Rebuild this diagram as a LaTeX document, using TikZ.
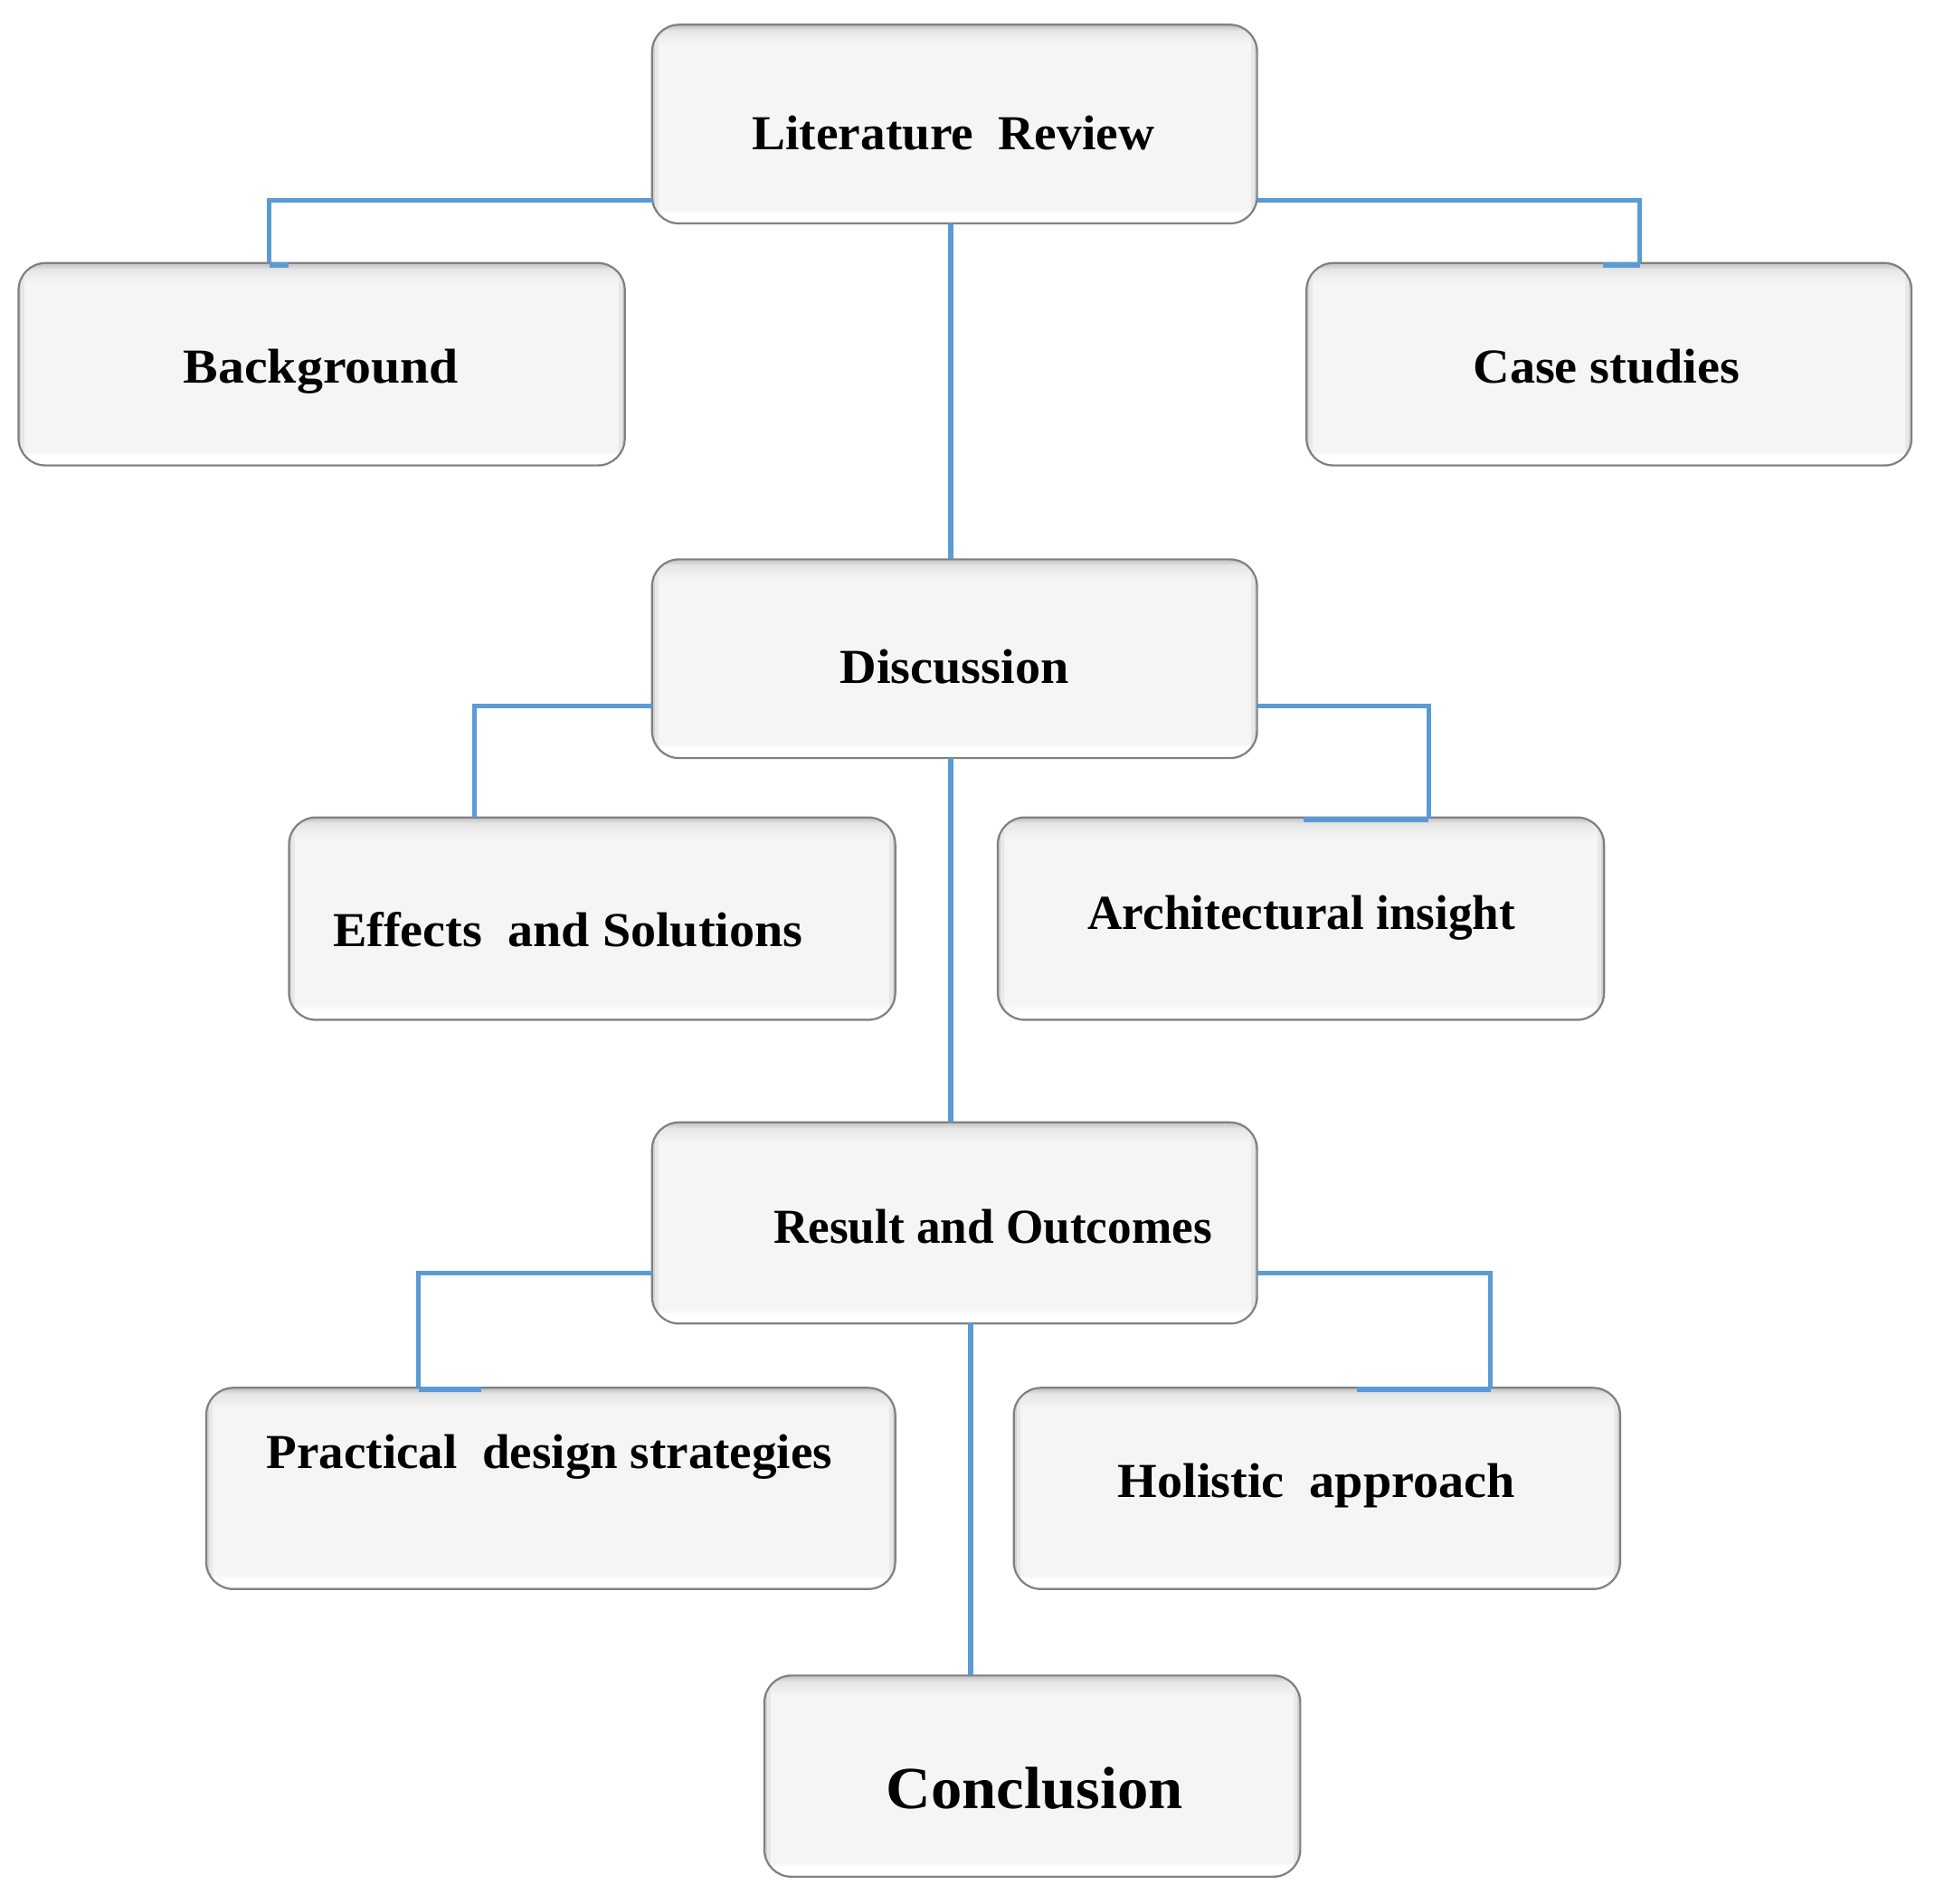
\documentclass[tikz,border=0pt]{standalone}
\usepackage{fontspec}
\setmainfont{Liberation Serif}[FakeStretch=1.04]
\usetikzlibrary{calc}
\definecolor{boxfill}{HTML}{F5F5F5}
\definecolor{conn}{HTML}{5B9BD5}
\definecolor{edge}{HTML}{808080}
\pgfdeclareverticalshading{boxshade}{100bp}{color(0bp)=(edge); color(25bp)=(edge); color(25.5bp)=(white); color(27.5bp)=(white); color(28.5bp)=(boxfill); color(70bp)=(boxfill); color(73.5bp)=(gray!20); color(75bp)=(gray!50); color(100bp)=(gray!50)}
\def\U{0.6825pt}
\begin{document}
\begin{tikzpicture}[x=0.6825pt,y=-0.6825pt,
  box/.style={rectangle, rounded corners=15pt, shading=boxshade, draw=edge, line width=1.1pt,
    inner sep=0pt, outer sep=0pt,
    path picture={
      \draw[gray!18, line width=7pt] (path picture bounding box.south west) -- (path picture bounding box.north west);
      \draw[gray!18, line width=7pt] (path picture bounding box.south east) -- (path picture bounding box.north east);
      \draw[gray!35, line width=3pt] (path picture bounding box.south west) -- (path picture bounding box.north west);
      \draw[gray!35, line width=3pt] (path picture bounding box.south east) -- (path picture bounding box.north east);
    }},
  lbl/.style={anchor=base, font=\bfseries\fontsize{27}{32}\selectfont, inner sep=0pt},
  link/.style={draw=conn, line width=2.6pt},
  tab/.style={draw=conn, line width=3pt, line cap=butt}]
\useasboundingbox (0,0) rectangle (1567,1541.4);

% boxes
\node[box, minimum width=490*\U, minimum height=161*\U] (lit) at (773,100.5) {};
\node[box, minimum width=491*\U, minimum height=164*\U] (bg)  at (260.5,295) {};
\node[box, minimum width=490*\U, minimum height=164*\U] (cs)  at (1303,295) {};
\node[box, minimum width=490*\U, minimum height=161*\U] (dis) at (773,533.5) {};
\node[box, minimum width=491*\U, minimum height=164*\U] (eff) at (479.5,744) {};
\node[box, minimum width=491*\U, minimum height=164*\U] (arc) at (1053.5,744) {};
\node[box, minimum width=490*\U, minimum height=163*\U] (res) at (773,990.5) {};
\node[box, minimum width=558*\U, minimum height=163*\U] (pra) at (446,1205.5) {};
\node[box, minimum width=491*\U, minimum height=163*\U] (hol) at (1066.5,1205.5) {};
\node[box, minimum width=434*\U, minimum height=163*\U] (con) at (836,1438.5) {};

% labels
\node[lbl] (t1) at (772,121.5) {\scalebox{0.985}[1]{Literature\ \ Review}};
\node[lbl] (t2) at (260,310.5) {\scalebox{1.03}[1]{Background}};
\node[lbl] (t3) at (1301,310.5) {Case studies};
\node[lbl] (t4) at (773,553.5) {Discussion};
\node[lbl] (t5) at (460,767) {Effects\ \ and Solutions};
\node[lbl] (t6) at (1054,753) {\scalebox{0.945}[1]{Architectural insight}};
\node[lbl] (t7) at (804,1007) {\scalebox{0.947}[1]{Result and Outcomes}};
\node[lbl] (t8) at (445,1189) {\scalebox{0.98}[1]{Practical\ \ design strategies}};
\node[lbl] (t9) at (1066,1213) {Holistic\ \ approach};
\node[lbl, font=\bfseries\fontsize{33}{38}\selectfont] (t10) at (838,1465) {Conclusion};

% connectors
\draw[link] ($(lit.south west)+(0,-19)$) -| ($(bg.north west)+(203,0)$);
\draw[link] ($(lit.south east)+(0,-19)$) -| ($(cs.north west)+(270,0)$);
\draw[link] ($(lit.south)+(-3,0)$) -- ($(dis.north)+(-3,0)$);
\draw[link] ($(dis.south west)+(0,-42)$) -| ($(eff.north west)+(150,0)$);
\draw[link] ($(dis.south east)+(0,-42)$) -| ($(arc.north west)+(349,0)$);
\draw[link] ($(dis.south)+(-3,0)$) -- ($(res.north)+(-3,0)$);
\draw[link] ($(res.south west)+(0,-41)$) -| ($(pra.north west)+(172,0)$);
\draw[link] ($(res.south east)+(0,-41)$) -| ($(hol.north west)+(386,0)$);
\draw[link] ($(res.south west)+(258,0)$) -- ($(con.north west)+(167,0)$);

% tabs on box tops
\draw[tab] ($(bg.north west)+(203,1.5)$) -- ($(bg.north west)+(219,1.5)$);
\draw[tab] ($(cs.north west)+(240,1.5)$) -- ($(cs.north west)+(270,1.5)$);
\draw[tab] ($(arc.north west)+(248,1.5)$) -- ($(arc.north west)+(349,1.5)$);
\draw[tab] ($(pra.north west)+(172,1.5)$) -- ($(pra.north west)+(223,1.5)$);
\draw[tab] ($(hol.north west)+(278,1.5)$) -- ($(hol.north west)+(386,1.5)$);
\end{tikzpicture}
\end{document}
